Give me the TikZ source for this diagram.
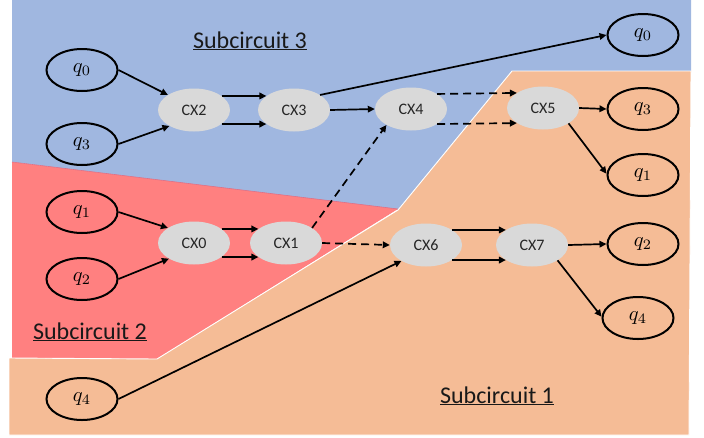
\documentclass[tikz,border=0pt]{standalone}
\usepackage{graphicx}
\usepackage{fontspec}
\setmainfont{Carlito}
\usetikzlibrary{arrows.meta,shapes.geometric}
\definecolor{bluereg}{RGB}{160,183,224}
\definecolor{redreg}{RGB}{255,128,128}
\definecolor{orangereg}{RGB}{245,188,150}
\definecolor{rededge}{RGB}{222,112,135}
\definecolor{cxgray}{RGB}{217,217,217}
\newcommand{\qlab}[1]{\scalebox{2.05}{$q_{#1}$}}
\tikzset{
  qnode/.style={ellipse, draw=black, line width=2pt, inner sep=0pt,
    minimum width=71pt, minimum height=42pt},
  cxnode/.style={ellipse, fill=cxgray, inner sep=0pt,
    minimum width=72pt, minimum height=43pt, font=\fontsize{16}{18}\selectfont, text=black!85},
  conn/.style={line width=1.7pt, -{Triangle[length=7pt,width=6.5pt]}},
  dconn/.style={conn, dash pattern=on 8pt off 5pt},
  sublabel/.style={anchor=base, font=\fontsize{24}{26}\selectfont, text=black!90}
}
\begin{document}
\begin{tikzpicture}[x=1pt,y=-1pt]
\useasboundingbox (0,0) rectangle (704,437);
% regions
\fill[bluereg] (12,0) -- (691,0) -- (691,71) -- (512,71) -- (398,210) -- (12,162) -- cycle;
\fill[redreg] (12,162) -- (398,209) -- (157,359) -- (12,358) -- cycle;
\draw[rededge, line width=0.6pt] (12,162) -- (398,209);
\filldraw[fill=orangereg, draw=white, line width=0.9pt] (9,358) -- (157,359) -- (398,210) -- (512,71) -- (691,71) -- (689,435) -- (9,435) -- cycle;
% labels
\node[sublabel] (s3) at (250,48) {\underline{Subcircuit 3}};
\node[sublabel] (s2) at (90,339) {\underline{Subcircuit 2}};
\node[sublabel] (s1) at (497,403) {\underline{Subcircuit 1}};
% input qubits
\node[qnode] (q0l) at (82,70) {\qlab{0}};
\node[qnode] (q3l) at (82,144) {\qlab{3}};
\node[qnode] (q1l) at (82,212) {\qlab{1}};
\node[qnode] (q2l) at (82,279) {\qlab{2}};
\node[qnode] (q4l) at (82,399) {\qlab{4}};
% output qubits
\node[qnode] (q0r) at (643,35) {\qlab{0}};
\node[qnode] (q3r) at (643,109) {\qlab{3}};
\node[qnode] (q1r) at (643,175) {\qlab{1}};
\node[qnode] (q2r) at (643,244) {\qlab{2}};
\node[qnode] (q4r) at (638,318) {\qlab{4}};
% gates
\node[cxnode] (cx2) at (194,110) {CX2};
\node[cxnode] (cx3) at (294,110) {CX3};
\node[cxnode] (cx4) at (411,109) {CX4};
\node[cxnode] (cx5) at (543,108) {CX5};
\node[cxnode] (cx0) at (194,243) {CX0};
\node[cxnode] (cx1) at (286,243) {CX1};
\node[cxnode] (cx6) at (426,245) {CX6};
\node[cxnode] (cx7) at (532,245) {CX7};
% connectors
\draw[conn] (q0l.east) -- (cx2.150);
\draw[conn] (q3l.east) -- (cx2.213);
\draw[conn] (cx2.27) -- (cx3.153);
\draw[conn] (cx2.-27) -- (cx3.-153);
\draw[conn] (cx3.30) -- (q0r.west);
\draw[conn] (cx3.east) -- (cx4.west);
\draw[dconn] (cx4.30) -- (cx5.150);
\draw[dconn] (cx4.-30) -- (cx5.-150);
\draw[conn] (cx5.east) -- (q3r.west);
\draw[conn] (cx5.-31) -- (q1r.178);
\draw[conn] (q1l.east) -- (cx0.150);
\draw[conn] (q2l.east) -- (cx0.212);
\draw[conn] (cx0.27) -- (cx1.153);
\draw[conn] (cx0.-27) -- (cx1.-153);
\draw[dconn] (cx1.30) -- (cx4.-147);
\draw[dconn] (cx1.east) -- (cx6.west);
\draw[conn] (q4l.east) -- (cx6.213);
\draw[conn] (cx6.30) -- (cx7.150);
\draw[conn] (cx6.-30) -- (cx7.-150);
\draw[conn] (cx7.east) -- (q2r.west);
\draw[conn] (cx7.-31) -- (q4r.178);
\end{tikzpicture}
\end{document}
